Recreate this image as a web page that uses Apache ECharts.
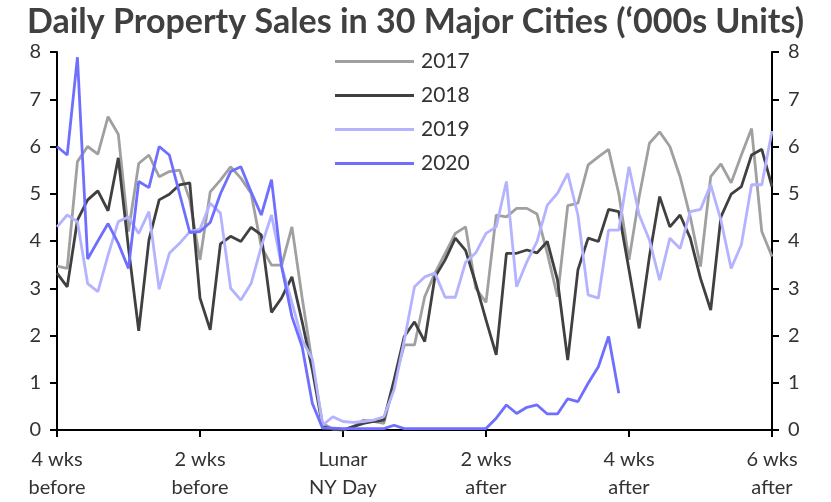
<!DOCTYPE html>
<html>
<head>
<meta charset="utf-8">
<script src="https://cdn.jsdelivr.net/npm/echarts@6/dist/echarts.min.js"></script>
<style>
html,body{margin:0;padding:0;background:#fff;}
#chart{width:831px;height:502px;}
</style>
</head>
<body>
<div id="chart"></div>
<script>
// Days relative to Lunar New Year
var days = [-28,-27,-26,-25,-24,-23,-22,-21,-20,-19,-18,-17,-16,-15,-14,-13,-12,-11,-10,-9,-8,-7,-6,-5,-4,-3,-2,-1,
  0,1,2,3,4,5,6,7,8,9,10,11,12,13,14,15,16,17,18,19,20,21,22,23,24,25,26,27,28,29,30,31,32,33,34,35,36,37,38,39,40,41,42];

var tickDays = [-28, -14, 0, 14, 28, 42];
var tickLabels = ['4 wks\nbefore', '2 wks\nbefore', 'Lunar\nNY Day', '2 wks\nafter', '4 wks\nafter', '6 wks\nafter'];

var seriesNames = ['2017', '2018', '2019', '2020'];

var s2017 = [3.47,3.42,5.68,6.0,5.84,6.63,6.26,4.2,5.64,5.82,
  5.36,5.47,5.5,4.87,3.6,5.04,5.29,5.57,5.33,5.01,
  3.88,3.49,3.49,4.3,2.8,1.4,0.14,0.02,
  0.0,0.07,0.21,0.18,0.14,0.99,1.8,1.8,2.82,3.32,
  3.74,4.16,4.3,3.0,2.7,4.55,4.51,4.69,4.69,4.57,
  3.74,2.82,4.75,4.8,5.61,5.78,5.94,5.0,3.6,4.94,
  6.07,6.31,6.0,5.36,4.51,3.46,5.36,5.63,5.23,5.82,
  6.38,4.2,3.67];

var s2018 = [3.32,3.03,4.44,4.87,5.06,4.64,5.76,3.85,2.1,4.02,
  4.87,4.99,5.19,5.23,2.79,2.12,3.94,4.1,3.99,4.29,
  4.13,2.49,2.8,3.24,2.29,1.27,0.07,0.02,
  0.0,0.07,0.14,0.18,0.21,1.06,1.98,2.29,1.87,3.24,
  3.6,4.06,3.8,3.1,2.33,1.59,3.74,3.74,3.81,3.75,
  3.99,3.17,1.48,3.39,4.06,3.99,4.67,4.62,3.39,2.15,
  3.67,4.94,4.3,4.55,4.06,3.21,2.54,4.51,4.99,5.15,
  5.82,5.94,5.15];

var s2019 = [4.3,4.55,4.41,3.1,2.93,3.7,4.41,4.51,4.16,4.62,
  2.98,3.74,3.95,4.2,4.25,4.8,4.59,3.0,2.75,3.1,
  3.88,4.55,3.46,2.7,1.9,1.5,0.1,0.28,
  0.18,0.16,0.18,0.21,0.28,0.85,1.9,3.03,3.24,3.32,
  2.81,2.81,3.55,3.75,4.16,4.3,5.26,3.03,3.56,3.99,
  4.76,5.01,5.43,4.55,2.86,2.79,4.23,4.23,5.57,4.55,
  4.02,3.17,4.06,3.84,4.62,4.67,5.19,4.44,3.42,3.92,
  5.19,5.19,6.33];

var s2020 = [6.0,5.82,7.89,3.62,4.0,4.37,3.95,3.42,5.26,5.13,
  6.0,5.82,5.0,4.18,4.2,4.39,5.0,5.47,5.57,5.04,
  4.55,5.3,3.45,2.4,1.76,0.56,0.04,0.04,
  0.03,0.03,0.03,0.03,0.03,0.1,0.03,0.03,0.03,0.03,
  0.03,0.03,0.03,0.03,0.03,0.25,0.53,0.35,0.48,0.53,
  0.34,0.34,0.66,0.6,0.99,1.34,1.98,0.78,null,null,
  null,null,null,null,null,null,null,null,null,null,
  null,null,null];

var colors = ['#a0a0a0', '#404040', '#b3b3ff', '#6f6fff'];
var allSeries = [s2017, s2018, s2019, s2020];

var chart = echarts.init(document.getElementById('chart'), null, {renderer: 'canvas'});
var FONT = 'Lato';

function yAxisDef(pos) {
  return {
    type: 'value',
    position: pos,
    min: 0, max: 8, interval: 1,
    splitLine: {show: false},
    axisLine: {show: true, lineStyle: {color: '#000', width: 2}},
    axisTick: {show: true, length: 7, lineStyle: {color: '#000', width: 2}},
    axisLabel: {fontFamily: FONT, fontSize: 20, color: '#333', margin: 16}
  };
}

var option = {
  animation: false,
  backgroundColor: '#fff',
  title: {
    text: 'Daily Property Sales in 30 Major Cities (\u2018000s Units)',
    left: 'center',
    top: 0,
    textStyle: {fontFamily: FONT, fontWeight: 'bold', fontSize: 34, color: '#404040'}
  },
  legend: {
    orient: 'vertical',
    left: 330,
    top: 46,
    icon: 'rect',
    itemWidth: 79,
    itemHeight: 3,
    itemGap: 13,
    data: seriesNames,
    textStyle: {fontFamily: FONT, fontSize: 21, color: '#333', padding: [0, 0, 0, 2]}
  },
  grid: {left: 57, right: 59, top: 52, bottom: 72, containLabel: false},
  xAxis: {
    type: 'category',
    data: days,
    boundaryGap: false,
    axisLine: {show: true, lineStyle: {color: '#000', width: 2}},
    axisTick: {show: true, interval: 13, length: 7, lineStyle: {color: '#000', width: 2}},
    axisLabel: {
      interval: 13,
      hideOverlap: false,
      fontFamily: FONT, fontSize: 20, color: '#333', lineHeight: 28, margin: 16,
      formatter: function (v) {
        var i = tickDays.indexOf(Number(v));
        return i >= 0 ? tickLabels[i] : '';
      }
    },
    splitLine: {show: false}
  },
  yAxis: [yAxisDef('left'), yAxisDef('right')],
  series: seriesNames.map(function (n, i) {
    return {
      name: n,
      type: 'line',
      data: allSeries[i],
      showSymbol: false,
      symbol: 'none',
      connectNulls: false,
      color: colors[i],
      lineStyle: {color: colors[i], width: 2.8},
      z: 2 + i
    };
  })
};
chart.setOption(option);
</script>
</body>
</html>
